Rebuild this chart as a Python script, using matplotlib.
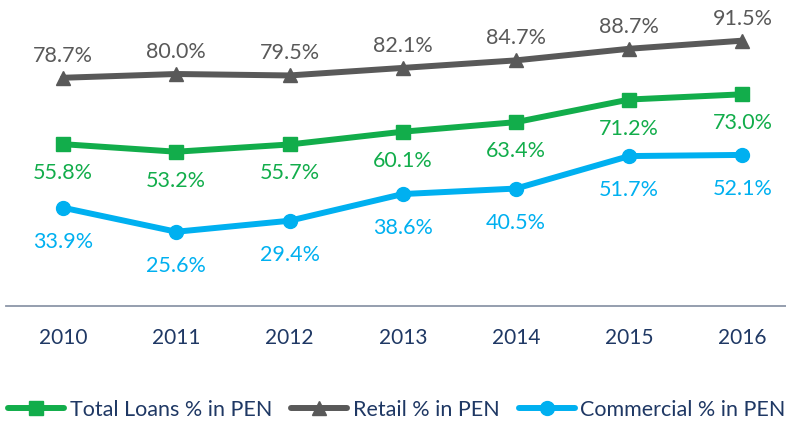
import matplotlib
matplotlib.use("Agg")
import matplotlib.pyplot as plt

years = ["2010", "2011", "2012", "2013", "2014", "2015", "2016"]
total_loans = [55.8, 53.2, 55.7, 60.1, 63.4, 71.2, 73.0]
retail = [78.7, 80.0, 79.5, 82.1, 84.7, 88.7, 91.5]
commercial = [33.9, 25.6, 29.4, 38.6, 40.5, 51.7, 52.1]

GREEN = "#12AD4B"
GRAY = "#595959"
BLUE = "#00B0F0"
NAVY = "#1F3864"

plt.rcParams['font.family'] = ['Lato', 'DejaVu Sans']

fig = plt.figure(figsize=(7.86, 4.24), dpi=100)
# axes spans past the right edge like the original, so the last category sits near the border
ax = fig.add_axes([6.4 / 786, (424 - 306) / 424, 792.7 / 786, 290 / 424])

x = list(range(len(years)))
series = [
    ("Total Loans % in PEN", total_loans, GREEN, "s", 10, -29),
    ("Retail % in PEN", retail, GRAY, "^", 10, 22),
    ("Commercial % in PEN", commercial, BLUE, "o", 10, -34),
]
for name, vals, col, mk, ms, off in series:
    ax.plot(x, vals, color=col, lw=4.3, marker=mk, markersize=ms, label=name,
            solid_capstyle="round", solid_joinstyle="round")
    for xi, v in zip(x, vals):
        ax.annotate("{:.1f}%".format(v), (xi, v), xytext=(0, off * 0.72),
                    textcoords="offset points", ha="center", va="center",
                    color=col, fontsize=15.5)

ax.set_xlim(-0.5, 6.5)
ax.set_ylim(0, 100)
ax.set_xticks(x)
ax.set_xticklabels(years, color=NAVY, fontsize=15)
ax.tick_params(axis="x", length=0, pad=16)
ax.set_yticks([])
for s in ["top", "right", "left"]:
    ax.spines[s].set_visible(False)
ax.spines["bottom"].set_color("#8C96A8")
ax.spines["bottom"].set_linewidth(1.3)

handles, labels = ax.get_legend_handles_labels()
leg = fig.legend(handles, labels, loc="center", bbox_to_anchor=(0.505, 1 - 410 / 424),
                 ncol=3, frameon=False, fontsize=15.5, handlelength=2.6,
                 handletextpad=0.25, columnspacing=0.9)
for t in leg.get_texts():
    t.set_color(NAVY)

fig.savefig("out.png", dpi=100)
